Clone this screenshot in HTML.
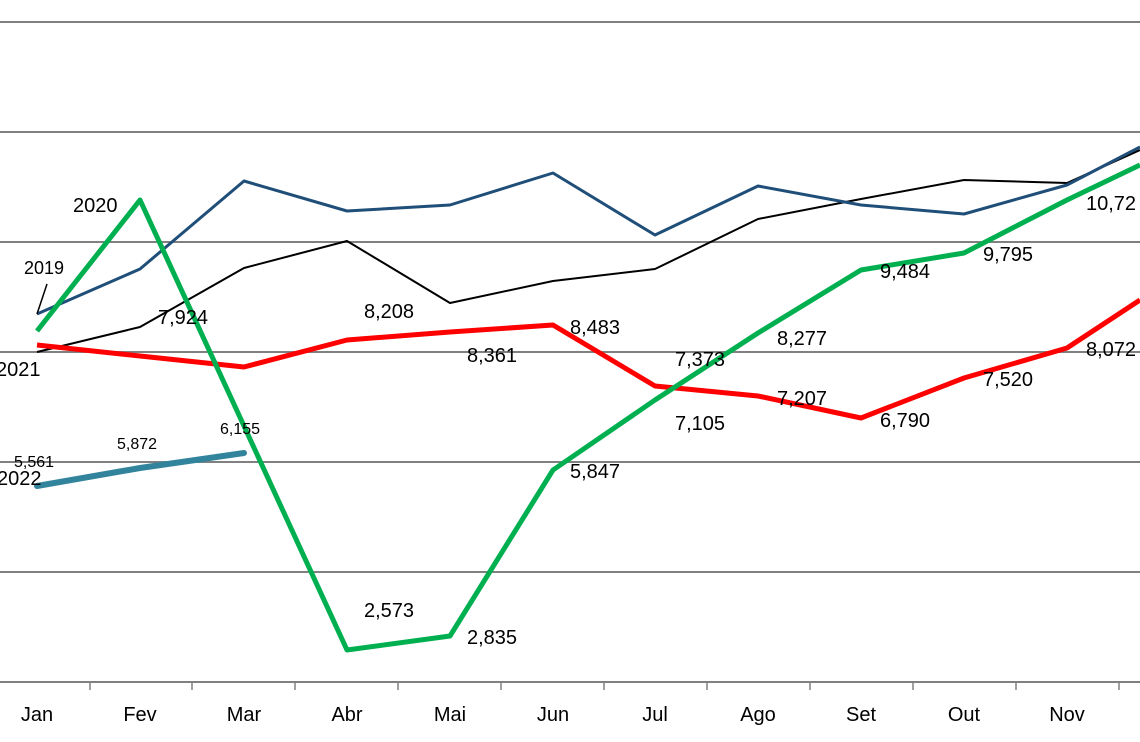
<!DOCTYPE html>
<html><head><meta charset="utf-8"><style>body{margin:0;background:#fff}svg{display:block}text{font-family:"Liberation Sans",Calibri,sans-serif;font-size:20px;fill:#000}</style></head><body>
<svg width="1140" height="742" xmlns="http://www.w3.org/2000/svg">
<g stroke="#808080" stroke-width="2">
<line x1="0" y1="22" x2="1140" y2="22"/><line x1="0" y1="132" x2="1140" y2="132"/><line x1="0" y1="242" x2="1140" y2="242"/><line x1="0" y1="352" x2="1140" y2="352"/><line x1="0" y1="462" x2="1140" y2="462"/><line x1="0" y1="572" x2="1140" y2="572"/><line x1="0" y1="682" x2="1140" y2="682"/>
<g stroke-width="1.5"><line x1="90" y1="682" x2="90" y2="690"/><line x1="192" y1="682" x2="192" y2="690"/><line x1="295" y1="682" x2="295" y2="690"/><line x1="398" y1="682" x2="398" y2="690"/><line x1="501" y1="682" x2="501" y2="690"/><line x1="604" y1="682" x2="604" y2="690"/><line x1="707" y1="682" x2="707" y2="690"/><line x1="810" y1="682" x2="810" y2="690"/><line x1="913" y1="682" x2="913" y2="690"/><line x1="1016" y1="682" x2="1016" y2="690"/><line x1="1119" y1="682" x2="1119" y2="690"/></g>
</g>
<g fill="none" stroke-linejoin="round">
<polyline stroke="#000" stroke-width="2" points="37,352 140,327 244,268 347,241 450,303 553,281 655,269 758,219 861,199 964,180 1067,183 1140,150"/>
<polyline stroke="#1f4e79" stroke-width="3" points="37,314 140,269 244,181 347,211 450,205 553,173 655,235 758,186 861,205 964,214 1067,185 1140,147"/>
<polyline stroke="#ff0000" stroke-width="5" points="37,345 140,356 244,367 347,340 450,332 553,325 655,386 758,396 861,418 964,378 1067,348 1140,300"/>
<polyline stroke="#00b050" stroke-width="5" points="37,331 140,200 244,426 347,650 450,636 553,470 655,400 758,333 861,270 964,253 1067,200 1140,165"/>
<polyline stroke="#31849b" stroke-width="6" stroke-linecap="round" points="37,486 140,468 244,453"/>
<line x1="37" y1="314" x2="47" y2="284" stroke="#000" stroke-width="1.5"/>
</g>
<g>
<text x="24" y="274" style="font-size:18px">2019</text>
<text x="73" y="212">2020</text>
<text x="-4" y="376">2021</text>
<text x="-3" y="485">2022</text>
<text x="14" y="467" style="font-size:16px">5,561</text>
<text x="117" y="449" style="font-size:16px">5,872</text>
<text x="220" y="434" style="font-size:16px">6,155</text>
<text x="158" y="324">7,924</text>
<text x="364" y="318">8,208</text>
<text x="467" y="362">8,361</text>
<text x="570" y="334">8,483</text>
<text x="675" y="366">7,373</text>
<text x="675" y="430">7,105</text>
<text x="777" y="345">8,277</text>
<text x="777" y="405">7,207</text>
<text x="880" y="278">9,484</text>
<text x="880" y="427">6,790</text>
<text x="983" y="261">9,795</text>
<text x="983" y="386">7,520</text>
<text x="1086" y="210">10,72</text>
<text x="1086" y="356">8,072</text>
<text x="364" y="617">2,573</text>
<text x="467" y="644">2,835</text>
<text x="570" y="478">5,847</text>
</g>
<g text-anchor="middle">
<text x="37" y="721">Jan</text><text x="140" y="721">Fev</text><text x="244" y="721">Mar</text><text x="347" y="721">Abr</text><text x="450" y="721">Mai</text><text x="553" y="721">Jun</text><text x="655" y="721">Jul</text><text x="758" y="721">Ago</text><text x="861" y="721">Set</text><text x="964" y="721">Out</text><text x="1067" y="721">Nov</text>
</g>
</svg>
</body></html>
